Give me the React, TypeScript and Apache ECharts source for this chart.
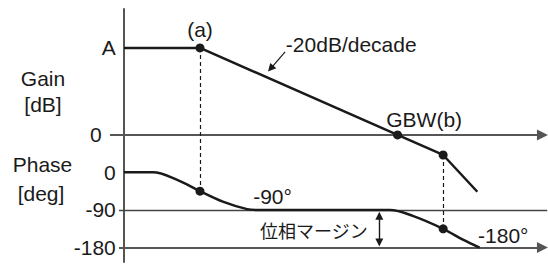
import React, { useEffect, useRef } from "react";
import * as echarts from "echarts";

// x = log10(frequency) in decades, 0 at the vertical axis
// Gain curve (dB): flat at A, then -20dB/decade, then steeper after the 2nd pole
const gainPoints: [number, number][] = [
  [0, 52],
  [1.0, 52],
  [3.6, 0],
  [4.2, -12],
  [4.65, -34],
];
const gainDots: [number, number][] = [
  [1.0, 52],
  [3.6, 0],
  [4.2, -12],
];

// Phase curve (deg)
const phasePoints: [number, number][] = [
  [0, 0],
  [0.38, 0],
  [0.7, -18],
  [1.0, -45],
  [1.3, -70],
  [1.62, -88],
  [1.75, -90],
  [3.5, -90],
  [3.8, -104],
  [4.2, -135],
  [4.46, -161],
  [4.68, -180],
];
const phaseDots: [number, number][] = [
  [1.0, -45],
  [4.2, -135],
];

// tick labels
const gainTickValues = [52, 0];
const gainTickLabels = ["A", "0"];
const phaseTickValues = [0, -90, -180];
const phaseTickLabels = ["0", "-90", "-180"];

// annotations (x in decades; y in dB for gain band, deg for phase band)
const gainNotes = [
  { text: "(a)", x: 1.0, y: 62.8, align: "center" },
  { text: "-20dB/decade", x: 2.13, y: 54.1, align: "left" },
  { text: "GBW(b)", x: 3.95, y: 9.4, align: "center" },
];
const phaseNotes = [
  { text: "-90°", x: 1.70, y: -57, align: "left" },
  { text: "位相マージン", x: 1.79, y: -137, align: "left", cjk: true },
  { text: "-180°", x: 4.66, y: -150, align: "left" },
];

// layout of the two bands on the shared vertical axis
const PHASE_ZERO = -22.4; // position of 0 deg on the gain scale
const PHASE_UNIT = 0.25; // gain units per degree
const toY = (deg: number) => PHASE_ZERO + deg * PHASE_UNIT;

const INK = "#1a1a1a";
const AXIS = "#555555";
const FONT = '"Liberation Sans", Arial, sans-serif';
const CJK = '"Noto Sans CJK JP", sans-serif';
const FS = 21;
const ARROW_END = 5.507;
const LINE_START = -0.184;
const PHASE_LINE_START = -0.066;

export default function App() {
  const ref = useRef<HTMLDivElement>(null);
  useEffect(() => {
    const chart = echarts.init(ref.current!, undefined, { renderer: "svg" });
    const tickValues = [...gainTickValues, ...phaseTickValues.map(toY)];
    const tickLabels = [...gainTickLabels, ...phaseTickLabels];
    const option: any = {
      animation: false,
      grid: { left: 108.8, right: 0, top: 9, bottom: 2, outerBoundsMode: "none" },
      xAxis: {
        type: "value",
        min: -0.2,
        max: 5.58,
        show: false,
      },
      yAxis: {
        type: "value",
        min: -76,
        max: 75.3,
        axisLine: { show: true, onZero: true, lineStyle: { color: AXIS, width: 2 } },
        axisTick: { show: false },
        splitLine: { show: false },
        axisLabel: {
          customValues: tickValues,
          margin: -7,
          color: INK,
          fontSize: FS,
          fontFamily: FONT,
          formatter: (v: number) => {
            const i = tickValues.findIndex((t) => Math.abs(t - v) < 1e-6);
            if (i < 0) return "";
            if (i === 1) return "{g|" + tickLabels[i] + "}";
            if (i === 0) return "{a|" + tickLabels[i] + "}";
            return tickLabels[i];
          },
          rich: {
            g: { padding: [0, 14, 0, 0], fontSize: FS, fontFamily: FONT, color: INK },
            a: { padding: [0, 0, 0, 0], fontSize: FS, fontFamily: FONT, color: INK },
          },
        },
      },
      series: [
        {
          type: "line",
          data: [],
          silent: true,
          markLine: {
            silent: true,
            symbol: ["none", "triangle"],
            symbolSize: 11,
            label: { show: false },
            lineStyle: { color: AXIS, width: 2, type: "solid" },
            itemStyle: { color: INK },
            data: [
              [{ coord: [LINE_START, 0] }, { coord: [ARROW_END, 0] }],
              [{ coord: [PHASE_LINE_START, toY(-180)] }, { coord: [ARROW_END, toY(-180)] }],
            ],
          },
        },
        {
          type: "line",
          data: [],
          silent: true,
          markLine: {
            silent: true,
            symbol: ["none", "none"],
            label: { show: false },
            lineStyle: { color: "#444444", width: 1.3, type: "solid" },
            data: [[{ coord: [PHASE_LINE_START, toY(-90)] }, { coord: [5.57, toY(-90)] }]],
          },
        },
        {
          type: "line",
          data: [],
          silent: true,
          markLine: {
            silent: true,
            symbol: ["none", "none"],
            label: { show: false },
            lineStyle: { color: INK, width: 1.2, type: [4, 3] },
            data: [
              [{ coord: [gainDots[0][0], gainDots[0][1]] }, { coord: [phaseDots[0][0], toY(phaseDots[0][1])] }],
              [{ coord: [gainDots[2][0], gainDots[2][1]] }, { coord: [phaseDots[1][0], toY(phaseDots[1][1])] }],
            ],
          },
        },
        {
          type: "line",
          data: [],
          silent: true,
          markLine: {
            silent: true,
            symbol: ["triangle", "triangle"],
            symbolSize: 8,
            label: { show: false },
            lineStyle: { color: INK, width: 1.4, type: "solid" },
            itemStyle: { color: INK },
            data: [[{ coord: [3.36, toY(-104)] }, { coord: [3.36, toY(-168)] }]],
          },
        },
        {
          type: "line",
          data: [],
          silent: true,
          markLine: {
            silent: true,
            symbol: ["none", "triangle"],
            symbolSize: 8,
            label: { show: false },
            lineStyle: { color: INK, width: 1.2, type: "solid" },
            itemStyle: { color: INK },
            data: [[{ coord: [2.12, 49.6] }, { coord: [1.93, 39.7] }]],
          },
        },
        {
          type: "line",
          data: gainPoints,
          symbol: "none",
          silent: true,
          lineStyle: { color: INK, width: 2.5 },
          z: 5,
        },
        {
          type: "line",
          data: phasePoints.map(([f, d]) => [f, toY(d)]),
          smooth: 0.35,
          symbol: "none",
          silent: true,
          lineStyle: { color: INK, width: 2.5 },
          z: 5,
        },
        {
          type: "scatter",
          data: [...gainDots, ...phaseDots.map(([f, d]) => [f, toY(d)])],
          symbolSize: 9,
          silent: true,
          itemStyle: { color: INK, opacity: 1 },
          z: 6,
        },
      ],
    };
    chart.setOption(option);

    const textEl = (text: string, x: number, y: number, align: string, family = FONT, size = FS) => ({
      type: "text",
      x,
      y,
      silent: true,
      style: {
        text,
        fill: INK,
        fontSize: size,
        fontFamily: family,
        align,
        verticalAlign: "middle",
      },
    });
    const notes = [
      ...gainNotes.map((n) => {
        const [px, py] = chart.convertToPixel({ gridIndex: 0 }, [n.x, n.y]) as number[];
        return textEl(n.text, px, py, n.align);
      }),
      ...phaseNotes.map((n: any) => {
        const [px, py] = chart.convertToPixel({ gridIndex: 0 }, [n.x, toY(n.y)]) as number[];
        return n.cjk ? textEl(n.text, px, py, n.align, CJK, 18) : textEl(n.text, px, py, n.align);
      }),
    ];
    const titles = [
      textEl("Gain", 43, 78, "center"),
      textEl("[dB]", 43, 104.5, "center"),
      textEl("Phase", 42.5, 164.5, "center"),
      textEl("[deg]", 41, 193, "center"),
    ];
    chart.setOption({ graphic: [...titles, ...notes] });
    return () => chart.dispose();
  }, []);
  return (
    <div
      ref={ref}
      style={{ position: "absolute", left: 0, top: 0, width: 548, height: 264 }}
    />
  );
}
